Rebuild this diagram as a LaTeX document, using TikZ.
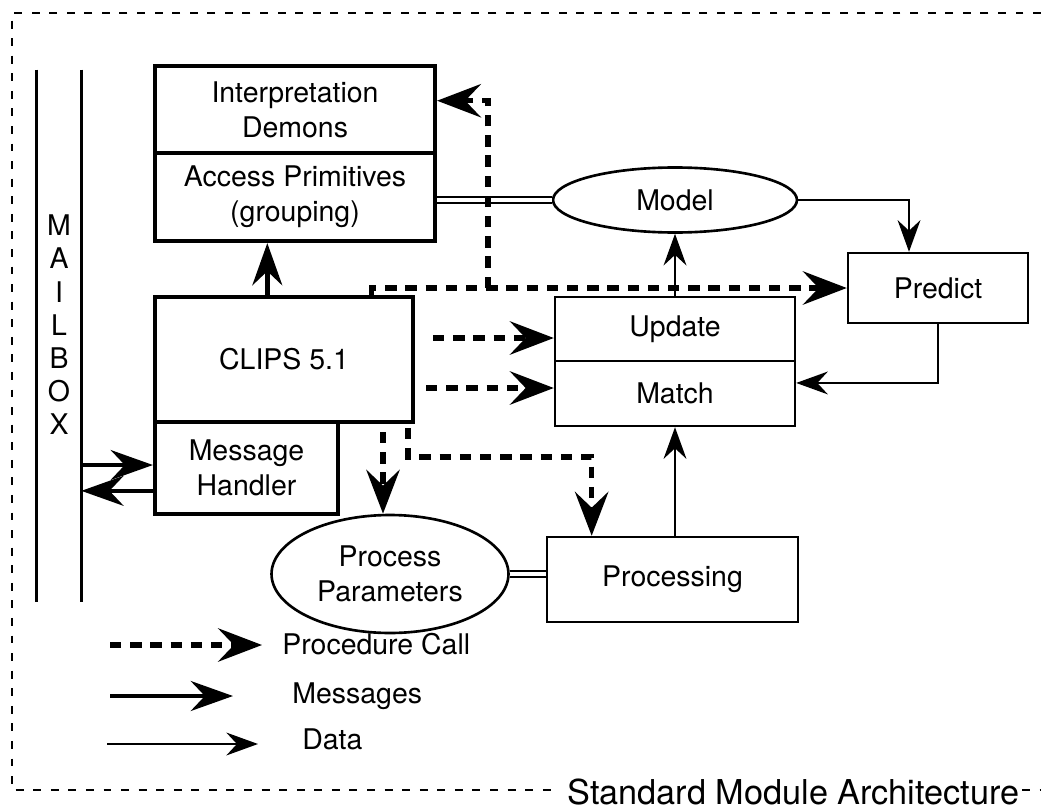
\documentclass[tikz,border=0pt]{standalone}
\usepackage{fontspec}
\setmainfont{TeX Gyre Heros}
\usetikzlibrary{arrows.meta}
\usetikzlibrary{shapes.geometric}

\begin{document}
\begin{tikzpicture}[x=0.02cm,y=-0.02cm,
  font=\fontsize{16.2pt}{19.8pt}\selectfont,
  heavy/.style={draw,line width=2.4pt,inner sep=0pt,align=center},
  light/.style={draw,line width=1.4pt,inner sep=0pt,align=center},
  oval/.style={draw,ellipse,line width=1.5pt,inner sep=0pt,align=center},
  proc/.style={line width=3pt,dash pattern=on 6.5pt off 5pt,-{Stealth[length=25pt,width=19pt,inset=9pt]}},
  msg/.style={line width=2.6pt,-{Stealth[length=24pt,width=17pt,inset=8pt]}},
  data/.style={line width=1.1pt,-{Stealth[length=18pt,width=13pt,inset=6pt]}},
  link/.style={line width=1.1pt,double,double distance=2.3pt},
  frame/.style={line width=1.1pt,dash pattern=on 4.5pt off 5.5pt}]
\useasboundingbox (0,0) rectangle (1041,811);

\draw[frame] (1041,13) -- (12,13) -- (12,790) -- (560,790);
\draw[frame] (1022,790) -- (1041,790);
\node (title) [anchor=base west,inner sep=0pt,font=\fontsize{19.5pt}{23pt}\selectfont] at (567,804) {Standard Module Architecture};

\node (mailbox) [minimum width=0.88cm,minimum height=10.64cm,inner sep=0pt] at (59,336) {};
\draw[line width=1.5pt] (mailbox.north west) -- (mailbox.south west);
\draw[line width=1.5pt] (mailbox.north east) -- (mailbox.south east);
\node (letters) [align=center,inner sep=0pt,font=\fontsize{16.2pt}{18.9pt}\selectfont] at (59,325) {M\\A\\I\\L\\B\\O\\X};

\node (demons) [heavy,minimum width=5.6cm,minimum height=1.74cm] at (295,109.5) {Interpretation\\Demons};
\node (access) [heavy,minimum width=5.6cm,minimum height=1.76cm] at (295,197) {Access Primitives\\(grouping)};
\node (clips) [heavy,minimum width=5.16cm,minimum height=2.5cm] at (284,359.5) {CLIPS 5.1};
\node (handler) [heavy,minimum width=3.66cm,minimum height=1.84cm] at (246.5,468) {Message\\Handler};
\node (model) [oval,minimum width=4.88cm,minimum height=1.3cm] at (675,200) {Model};
\node (predict) [light,minimum width=3.6cm,minimum height=1.4cm] at (938,288) {Predict};
\node (update) [light,minimum width=4.8cm,minimum height=1.28cm] at (675,329) {Update};
\node (match) [light,minimum width=4.8cm,minimum height=1.3cm] at (675,393.5) {Match};
\node (params) [oval,minimum width=4.74cm,minimum height=2.36cm] at (390,574) {Process\\Parameters};
\node (processing) [light,minimum width=5.02cm,minimum height=1.7cm] at (672.5,579.5) {Processing};

\draw[link] (access.east |- model.west) -- (model.west);
\draw[link] (params.east) -- (params.east -| processing.west);
\draw[data] (model.east) -| ([xshift=-16.5pt]predict.north);
\draw[data] (predict.south) |- ([yshift=6pt]match.east);
\draw[data] (update.north) -- (model.south);
\draw[data] (match.south |- processing.north) -- (match.south);

\coordinate (hin) at ([yshift=1.7pt]handler.west);
\coordinate (hout) at ([yshift=-13pt]handler.west);
\draw[msg] ([xshift=-9.5pt]clips.north) -- ([xshift=-9.5pt]clips.north |- access.south);
\draw[msg] (hin -| mailbox.east) -- (hin);
\draw[msg] (hout) -- (hout -| mailbox.east);

\coordinate (cu) at (433,338);
\coordinate (cm) at (426,388);
\coordinate (cp) at (383,432);
\coordinate (cq) at (408,428);
\coordinate (cb) at (488,288);
\draw[proc] (cu) -- (cu -| update.west);
\draw[proc] (cm) -- (cm -| match.west);
\draw[proc] (cp) -- (cp |- params.north);
\draw[proc] (cq) -- ++(0,29) -| ([xshift=-46pt]processing.north);
\draw[proc] ([xshift=50pt]clips.north) |- (predict.west);
\draw[proc] (cb) |- ([yshift=5pt]demons.east);

\node (lproc) [anchor=base west,inner sep=0pt] at (282,654) {Procedure Call};
\node (lmsg) [anchor=base west,inner sep=0pt] at (292,703) {Messages};
\node (ldata) [anchor=base west,inner sep=0pt] at (302,749) {Data};
\coordinate (kp) at (110,645);
\coordinate (km) at (110,696);
\coordinate (kd) at (107,744);
\draw[proc] (kp) -- ++(152,0);
\draw[msg] (km) -- ++(123,0);
\draw[data] (kd) -- ++(151,0);
\end{tikzpicture}
\end{document}
